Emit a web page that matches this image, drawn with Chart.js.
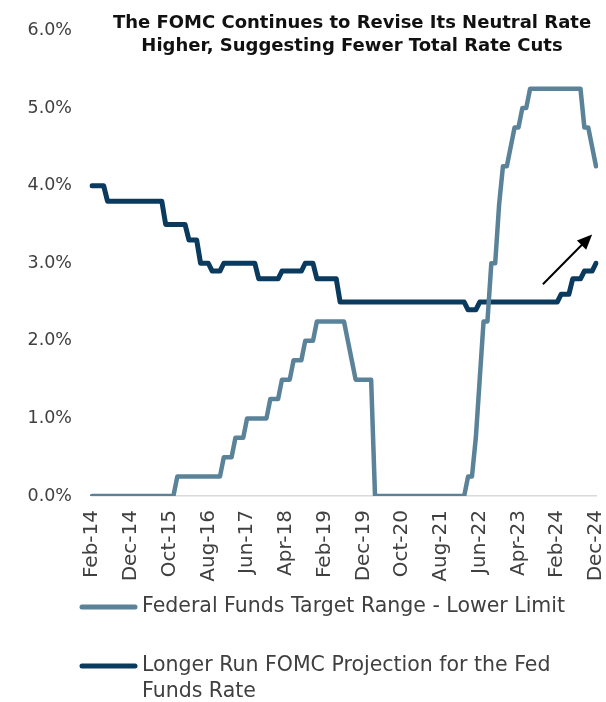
<!DOCTYPE html>
<html>
<head>
<meta charset="utf-8">
<script src="https://cdn.jsdelivr.net/npm/chart.js@4.4.1/dist/chart.umd.min.js"></script>
<style>
  html, body { margin: 0; padding: 0; background: #ffffff; }
  #wrap { width: 606px; height: 702px; }
</style>
</head>
<body>
<div id="wrap"><canvas id="fomcChart" width="606" height="702"></canvas></div>
<script>
// monthly, Feb-14 .. Dec-24
const monthNames = ['Jan', 'Feb', 'Mar', 'Apr', 'May', 'Jun', 'Jul', 'Aug', 'Sep', 'Oct', 'Nov', 'Dec'];
const labels = [];
for (let y = 2014; y <= 2024; y++) {
    for (let m = 0; m < 12; m++) {
        if (y === 2014 && m === 0) continue;
        labels.push(monthNames[m] + '-' + String(y).slice(2));
    }
}

// Federal Funds Target Range - Lower Limit (%)
const fedFundsLower = [
    0, 0, 0, 0, 0, 0, 0, 0, 0, 0, 0,                                  // 2014 Feb-Dec
    0, 0, 0, 0, 0, 0, 0, 0, 0, 0, 0, 0.25,                            // 2015
    0.25, 0.25, 0.25, 0.25, 0.25, 0.25, 0.25, 0.25, 0.25, 0.25, 0.25, 0.5, // 2016
    0.5, 0.5, 0.75, 0.75, 0.75, 1, 1, 1, 1, 1, 1, 1.25,               // 2017
    1.25, 1.25, 1.5, 1.5, 1.5, 1.75, 1.75, 1.75, 2, 2, 2, 2.25,       // 2018
    2.25, 2.25, 2.25, 2.25, 2.25, 2.25, 2.25, 2, 1.75, 1.5, 1.5, 1.5, // 2019
    1.5, 1.5, 0, 0, 0, 0, 0, 0, 0, 0, 0, 0,                           // 2020
    0, 0, 0, 0, 0, 0, 0, 0, 0, 0, 0, 0,                               // 2021
    0, 0, 0.25, 0.25, 0.75, 1.5, 2.25, 2.25, 3, 3, 3.75, 4.25,        // 2022
    4.25, 4.5, 4.75, 4.75, 5, 5, 5.25, 5.25, 5.25, 5.25, 5.25, 5.25,  // 2023
    5.25, 5.25, 5.25, 5.25, 5.25, 5.25, 5.25, 5.25, 4.75, 4.75, 4.5, 4.25 // 2024
];

// Longer Run FOMC Projection for the Fed Funds Rate (%)
const longerRun = [
    4, 4, 4, 4, 3.8, 3.8, 3.8, 3.8, 3.8, 3.8, 3.8,                    // 2014 Feb-Dec
    3.8, 3.8, 3.8, 3.8, 3.8, 3.8, 3.8, 3.8, 3.5, 3.5, 3.5, 3.5,       // 2015
    3.5, 3.5, 3.3, 3.3, 3.3, 3, 3, 3, 2.9, 2.9, 2.9, 3,               // 2016
    3, 3, 3, 3, 3, 3, 3, 3, 2.8, 2.8, 2.8, 2.8,                       // 2017
    2.8, 2.8, 2.9, 2.9, 2.9, 2.9, 2.9, 2.9, 3, 3, 3, 2.8,             // 2018
    2.8, 2.8, 2.8, 2.8, 2.8, 2.5, 2.5, 2.5, 2.5, 2.5, 2.5, 2.5,       // 2019
    2.5, 2.5, 2.5, 2.5, 2.5, 2.5, 2.5, 2.5, 2.5, 2.5, 2.5, 2.5,       // 2020
    2.5, 2.5, 2.5, 2.5, 2.5, 2.5, 2.5, 2.5, 2.5, 2.5, 2.5, 2.5,       // 2021
    2.5, 2.5, 2.4, 2.4, 2.4, 2.5, 2.5, 2.5, 2.5, 2.5, 2.5, 2.5,       // 2022
    2.5, 2.5, 2.5, 2.5, 2.5, 2.5, 2.5, 2.5, 2.5, 2.5, 2.5, 2.5,       // 2023
    2.5, 2.5, 2.6, 2.6, 2.6, 2.8, 2.8, 2.8, 2.9, 2.9, 2.9, 3          // 2024
];

const yTicks = [0, 1, 2, 3, 4, 5, 6];
const titleLines = ['The FOMC Continues to Revise Its Neutral Rate', 'Higher, Suggesting Fewer Total Rate Cuts'];
const seriesNames = ['Federal Funds Target Range - Lower Limit', 'Longer Run FOMC Projection for the Fed Funds Rate'];

const FONT = '"DejaVu Sans", sans-serif';
const TEXT_COLOR = '#404040';

// title, arrow and legend drawn on the canvas
const extrasPlugin = {
    id: 'extras',
    afterDraw(chart) {
        const ctx = chart.ctx;
        const xs = chart.scales.x, ys = chart.scales.y;
        ctx.save();

        // title inside the plot
        ctx.fillStyle = '#111111';
        ctx.font = 'bold 18px ' + FONT;
        ctx.textAlign = 'center';
        ctx.textBaseline = 'alphabetic';
        ctx.fillText(titleLines[0], 352, 28);
        ctx.fillText(titleLines[1], 352, 51);

        // arrow
        const x1 = xs.getPixelForValue(116.3), y1 = ys.getPixelForValue(2.73);
        const x2 = xs.getPixelForValue(129), y2 = ys.getPixelForValue(3.37);
        const ang = Math.atan2(y2 - y1, x2 - x1);
        const head = 15;
        ctx.strokeStyle = '#000000';
        ctx.fillStyle = '#000000';
        ctx.lineWidth = 2;
        ctx.beginPath();
        ctx.moveTo(x1, y1);
        ctx.lineTo(x2 - head * 0.8 * Math.cos(ang), y2 - head * 0.8 * Math.sin(ang));
        ctx.stroke();
        ctx.beginPath();
        ctx.moveTo(x2, y2);
        ctx.lineTo(x2 - head * Math.cos(ang) + 6.5 * Math.sin(ang), y2 - head * Math.sin(ang) - 6.5 * Math.cos(ang));
        ctx.lineTo(x2 - head * Math.cos(ang) - 6.5 * Math.sin(ang), y2 - head * Math.sin(ang) + 6.5 * Math.cos(ang));
        ctx.closePath();
        ctx.fill();

        // legend
        const items = [
            { y: 607, lines: ['Federal Funds Target Range - Lower Limit'] },
            { y: 666, lines: ['Longer Run FOMC Projection for the Fed', 'Funds Rate'] }
        ];
        ctx.font = '20.5px ' + FONT;
        ctx.textAlign = 'left';
        ctx.textBaseline = 'middle';
        items.forEach((item, i) => {
            const ds = chart.data.datasets[i];
            ctx.strokeStyle = ds.borderColor;
            ctx.lineWidth = 5;
            ctx.lineCap = 'round';
            ctx.beginPath();
            ctx.moveTo(82, item.y);
            ctx.lineTo(135, item.y);
            ctx.stroke();
            ctx.fillStyle = TEXT_COLOR;
            item.lines.forEach((t, k) => ctx.fillText(t, 142, item.y + k * 26));
        });
        ctx.restore();
    }
};

const ctx = document.getElementById('fomcChart').getContext('2d');
const fomcChart = new Chart(ctx, {
    type: 'line',
    data: {
        labels: labels,
        datasets: [{
            label: seriesNames[0],
            data: fedFundsLower,
            borderColor: '#5a8299',
            borderWidth: 4.5,
            pointRadius: 0,
            tension: 0,
            borderJoinStyle: 'round',
            borderCapStyle: 'round',
            fill: false
        }, {
            label: seriesNames[1],
            data: longerRun,
            borderColor: '#0b3a5f',
            borderWidth: 5,
            pointRadius: 0,
            tension: 0,
            borderJoinStyle: 'round',
            borderCapStyle: 'round',
            fill: false
        }]
    },
    options: {
        responsive: false,
        animation: false,
        devicePixelRatio: 1,
        layout: { padding: { top: 26, right: 10, bottom: 106, left: 0 } },
        plugins: {
            legend: { display: false },
            tooltip: { enabled: false },
            title: { display: false }
        },
        scales: {
            x: {
                grid: { display: false, drawTicks: false },
                border: { display: true, color: '#d9d9d9', width: 1.5 },
                afterFit(scale) {
                    scale.height = 100;
                    scale.paddingLeft = 0;
                    scale.paddingRight = 0;
                },
                ticks: {
                    autoSkip: false,
                    minRotation: 90,
                    maxRotation: 90,
                    padding: 14,
                    color: TEXT_COLOR,
                    font: { family: FONT, size: 20 },
                    callback: function(value, index) {
                        return index % 10 === 0 ? labels[index] : '';
                    }
                }
            },
            y: {
                min: 0,
                max: 6,
                afterFit(scale) { scale.width = 92; },
                afterBuildTicks(scale) { scale.ticks = yTicks.map(v => ({ value: v })); },
                grid: { display: false, drawTicks: false },
                border: { display: false },
                ticks: {
                    padding: 20,
                    color: TEXT_COLOR,
                    font: { family: FONT, size: 17.5 },
                    callback: v => v.toFixed(1) + '%'
                }
            }
        }
    },
    plugins: [extrasPlugin]
});
</script>
</body>
</html>
